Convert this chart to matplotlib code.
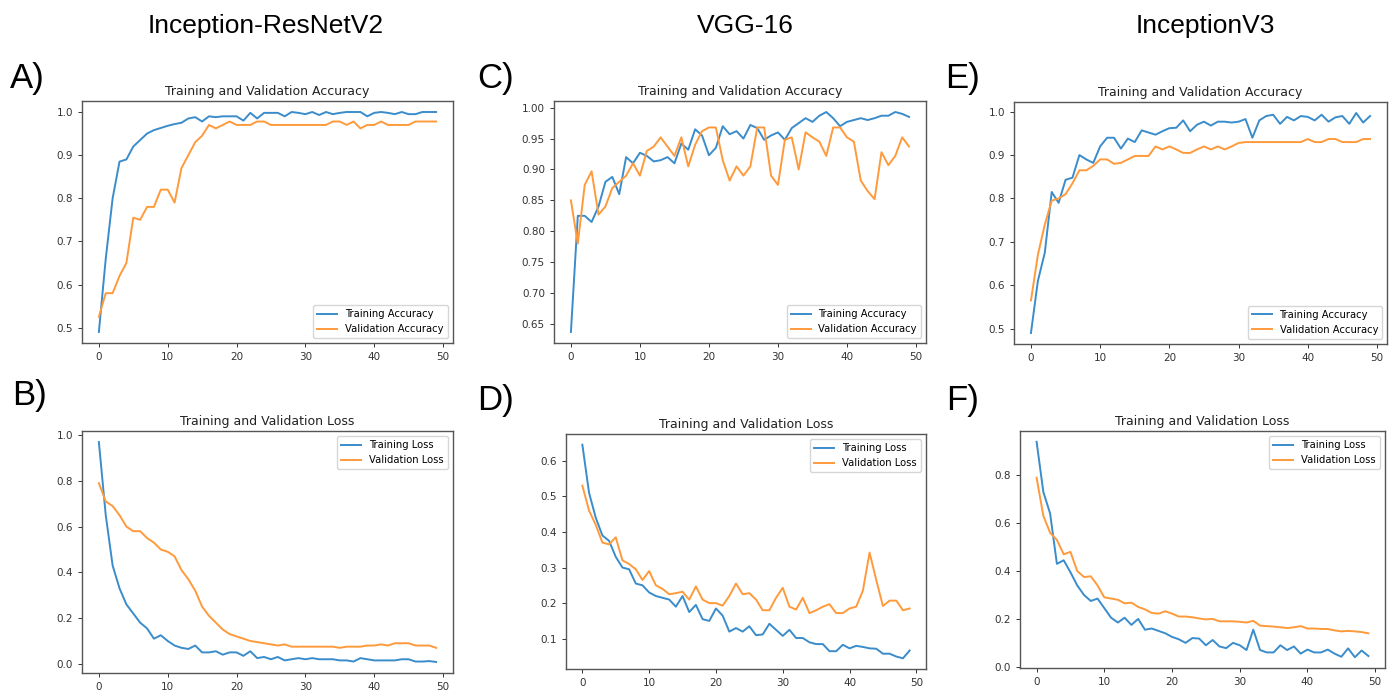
import numpy as np
import matplotlib
matplotlib.use("Agg")
import matplotlib.pyplot as plt

# epochs 0..49
epochs = np.arange(50)

# Inception-ResNetV2
irv2_train_acc = [0.49, 0.66, 0.80, 0.885, 0.89, 0.92, 0.935, 0.95, 0.958, 0.963,
                  0.968, 0.972, 0.975, 0.985, 0.988, 0.978, 0.99, 0.988, 0.99, 0.99,
                  0.99, 0.98, 0.998, 0.985, 0.998, 0.998, 0.998, 0.99, 1.0, 0.998,
                  0.995, 1.0, 0.993, 1.0, 0.995, 0.998, 1.0, 1.0, 1.0, 0.99,
                  0.998, 1.0, 0.998, 0.995, 1.0, 0.995, 0.995, 1.0, 1.0, 1.0]
irv2_val_acc = [0.525, 0.58, 0.58, 0.62, 0.65, 0.755, 0.75, 0.78, 0.78, 0.82,
                0.82, 0.79, 0.87, 0.90, 0.93, 0.945, 0.97, 0.962, 0.97, 0.978,
                0.97, 0.97, 0.97, 0.978, 0.978, 0.97, 0.97, 0.97, 0.97, 0.97,
                0.97, 0.97, 0.97, 0.97, 0.978, 0.978, 0.97, 0.978, 0.962, 0.97,
                0.97, 0.978, 0.97, 0.97, 0.97, 0.97, 0.978, 0.978, 0.978, 0.978]
irv2_train_loss = [0.97, 0.65, 0.43, 0.33, 0.26, 0.22, 0.18, 0.155, 0.11, 0.125,
                   0.10, 0.08, 0.07, 0.065, 0.08, 0.05, 0.05, 0.055, 0.04, 0.05,
                   0.05, 0.035, 0.055, 0.025, 0.03, 0.02, 0.03, 0.015, 0.02, 0.025,
                   0.02, 0.025, 0.02, 0.02, 0.02, 0.015, 0.015, 0.01, 0.025, 0.02,
                   0.015, 0.015, 0.015, 0.015, 0.02, 0.02, 0.01, 0.01, 0.012, 0.008]
irv2_val_loss = [0.79, 0.71, 0.69, 0.65, 0.60, 0.58, 0.58, 0.55, 0.53, 0.50,
                 0.49, 0.47, 0.41, 0.37, 0.32, 0.25, 0.21, 0.18, 0.15, 0.13,
                 0.12, 0.11, 0.10, 0.095, 0.09, 0.085, 0.08, 0.085, 0.075, 0.075,
                 0.075, 0.075, 0.075, 0.075, 0.075, 0.07, 0.075, 0.075, 0.075, 0.08,
                 0.08, 0.085, 0.08, 0.09, 0.09, 0.09, 0.08, 0.08, 0.08, 0.07]

# VGG-16
vgg_train_acc = [0.637, 0.825, 0.825, 0.815, 0.84, 0.88, 0.888, 0.86, 0.92, 0.91,
                 0.927, 0.922, 0.913, 0.915, 0.92, 0.91, 0.942, 0.932, 0.965, 0.955,
                 0.923, 0.935, 0.97, 0.957, 0.962, 0.95, 0.972, 0.967, 0.948, 0.955,
                 0.96, 0.948, 0.967, 0.975, 0.983, 0.977, 0.987, 0.993, 0.983, 0.97,
                 0.977, 0.98, 0.983, 0.98, 0.983, 0.987, 0.987, 0.993, 0.99, 0.985]
vgg_val_acc = [0.85, 0.78, 0.875, 0.897, 0.827, 0.84, 0.87, 0.88, 0.89, 0.91,
               0.89, 0.93, 0.937, 0.952, 0.937, 0.922, 0.952, 0.905, 0.94, 0.962,
               0.968, 0.968, 0.915, 0.882, 0.905, 0.89, 0.905, 0.968, 0.968, 0.89,
               0.875, 0.948, 0.952, 0.90, 0.96, 0.952, 0.945, 0.922, 0.968, 0.968,
               0.952, 0.945, 0.882, 0.865, 0.852, 0.928, 0.907, 0.922, 0.952, 0.937]
vgg_train_loss = [0.645, 0.51, 0.44, 0.39, 0.375, 0.33, 0.30, 0.295, 0.255, 0.25,
                  0.23, 0.22, 0.215, 0.21, 0.19, 0.22, 0.175, 0.195, 0.155, 0.15,
                  0.185, 0.165, 0.12, 0.13, 0.12, 0.135, 0.11, 0.112, 0.142, 0.125,
                  0.108, 0.125, 0.102, 0.102, 0.09, 0.085, 0.085, 0.065, 0.065, 0.083,
                  0.073, 0.08, 0.077, 0.073, 0.072, 0.058, 0.058, 0.05, 0.045, 0.067]
vgg_val_loss = [0.53, 0.46, 0.42, 0.37, 0.365, 0.385, 0.32, 0.31, 0.295, 0.265,
                0.29, 0.25, 0.24, 0.225, 0.228, 0.232, 0.21, 0.247, 0.21, 0.20,
                0.20, 0.193, 0.22, 0.255, 0.225, 0.228, 0.21, 0.18, 0.18, 0.215,
                0.243, 0.19, 0.182, 0.215, 0.172, 0.18, 0.19, 0.197, 0.172, 0.172,
                0.185, 0.19, 0.235, 0.342, 0.265, 0.192, 0.207, 0.207, 0.18, 0.185]

# InceptionV3
iv3_train_acc = [0.49, 0.61, 0.675, 0.815, 0.79, 0.843, 0.848, 0.90, 0.89, 0.882,
                 0.92, 0.94, 0.94, 0.915, 0.938, 0.93, 0.957, 0.952, 0.947, 0.955,
                 0.962, 0.963, 0.98, 0.955, 0.97, 0.977, 0.968, 0.977, 0.977, 0.975,
                 0.977, 0.983, 0.94, 0.98, 0.99, 0.993, 0.972, 0.988, 0.98, 0.99,
                 0.988, 0.98, 0.993, 0.977, 0.987, 0.99, 0.972, 0.997, 0.975, 0.99]
iv3_val_acc = [0.565, 0.67, 0.74, 0.795, 0.80, 0.81, 0.835, 0.865, 0.865, 0.875,
               0.89, 0.89, 0.88, 0.882, 0.89, 0.898, 0.898, 0.898, 0.92, 0.913,
               0.92, 0.913, 0.905, 0.905, 0.913, 0.92, 0.913, 0.92, 0.913, 0.92,
               0.928, 0.93, 0.93, 0.93, 0.93, 0.93, 0.93, 0.93, 0.93, 0.93,
               0.937, 0.93, 0.93, 0.937, 0.937, 0.93, 0.93, 0.93, 0.937, 0.937]
iv3_train_loss = [0.94, 0.73, 0.64, 0.43, 0.445, 0.395, 0.34, 0.30, 0.275, 0.285,
                  0.245, 0.205, 0.185, 0.205, 0.175, 0.20, 0.155, 0.16, 0.15, 0.14,
                  0.125, 0.115, 0.10, 0.12, 0.118, 0.09, 0.112, 0.085, 0.078, 0.10,
                  0.09, 0.07, 0.155, 0.07, 0.06, 0.06, 0.09, 0.07, 0.085, 0.055,
                  0.072, 0.06, 0.06, 0.072, 0.055, 0.042, 0.077, 0.04, 0.068, 0.045]
iv3_val_loss = [0.79, 0.63, 0.56, 0.53, 0.47, 0.48, 0.40, 0.375, 0.378, 0.34,
                0.29, 0.285, 0.28, 0.265, 0.268, 0.25, 0.24, 0.225, 0.222, 0.232,
                0.222, 0.21, 0.21, 0.207, 0.202, 0.198, 0.20, 0.19, 0.19, 0.19,
                0.188, 0.185, 0.192, 0.172, 0.17, 0.168, 0.165, 0.162, 0.165, 0.17,
                0.16, 0.16, 0.158, 0.158, 0.152, 0.148, 0.15, 0.148, 0.145, 0.14]

model_names = ["Inception-ResNetV2", "VGG-16", "InceptionV3"]
panel_letters = [["A)", "B)"], ["C)", "D)"], ["E)", "F)"]]

W, H = 1395, 691
fig = plt.figure(figsize=(W / 100, H / 100), dpi=100)

# caixas dos eixos em pixels: (esquerda, topo, direita, base)
boxes = [
    [(82, 101, 453, 343), (82, 431, 453, 673)],
    [(554, 101, 926, 343), (566, 434, 926, 669)],
    [(1014, 102, 1387, 344), (1020, 431, 1385, 668)],
]
letter_pos = [[(10, 88), (12, 405)], [(477, 88), (477, 410)], [(945, 88), (946, 410)]]
col_title_x = [266, 745, 1205]

series = [
    (irv2_train_acc, irv2_val_acc, irv2_train_loss, irv2_val_loss),
    (vgg_train_acc, vgg_val_acc, vgg_train_loss, vgg_val_loss),
    (iv3_train_acc, iv3_val_acc, iv3_train_loss, iv3_val_loss),
]

BLUE = "#3a8ccb"
ORANGE = "#ff9a3c"

for col in range(3):
    tr_acc, va_acc, tr_loss, va_loss = series[col]
    fig.text(col_title_x[col] / W, 1 - 26 / H, model_names[col], fontsize=19,
             family="Liberation Sans", ha="center", va="center")

    for row in range(2):
        l, t, r, b = boxes[col][row]
        ax = fig.add_axes([l / W, 1 - b / H, (r - l) / W, (b - t) / H])
        if row == 0:
            ax.plot(epochs, tr_acc, color=BLUE, lw=1.4, label="Training Accuracy")
            ax.plot(epochs, va_acc, color=ORANGE, lw=1.4, label="Validation Accuracy")
            ax.legend(loc="lower right", fontsize=7.2)
            ax.set_title("Training and Validation Accuracy", fontsize=9, pad=4, color="#222222")
        else:
            ax.plot(epochs, tr_loss, color=BLUE, lw=1.4, label="Training Loss")
            ax.plot(epochs, va_loss, color=ORANGE, lw=1.4, label="Validation Loss")
            ax.legend(loc="upper right", fontsize=7.2)
            ax.set_title("Training and Validation Loss", fontsize=9, pad=4, color="#222222")
        ax.set_xticks([0, 10, 20, 30, 40, 50])
        ax.tick_params(labelsize=7.5, colors="#333333", length=3, width=0.7)
        for s in ax.spines.values():
            s.set_color("#555555")
            s.set_linewidth(1.0)

        lx, ly = letter_pos[col][row]
        fig.text(lx / W, 1 - ly / H, panel_letters[col][row], fontsize=25,
                 family="Liberation Sans", ha="left", va="baseline")

fig.savefig("out.png", dpi=100)
